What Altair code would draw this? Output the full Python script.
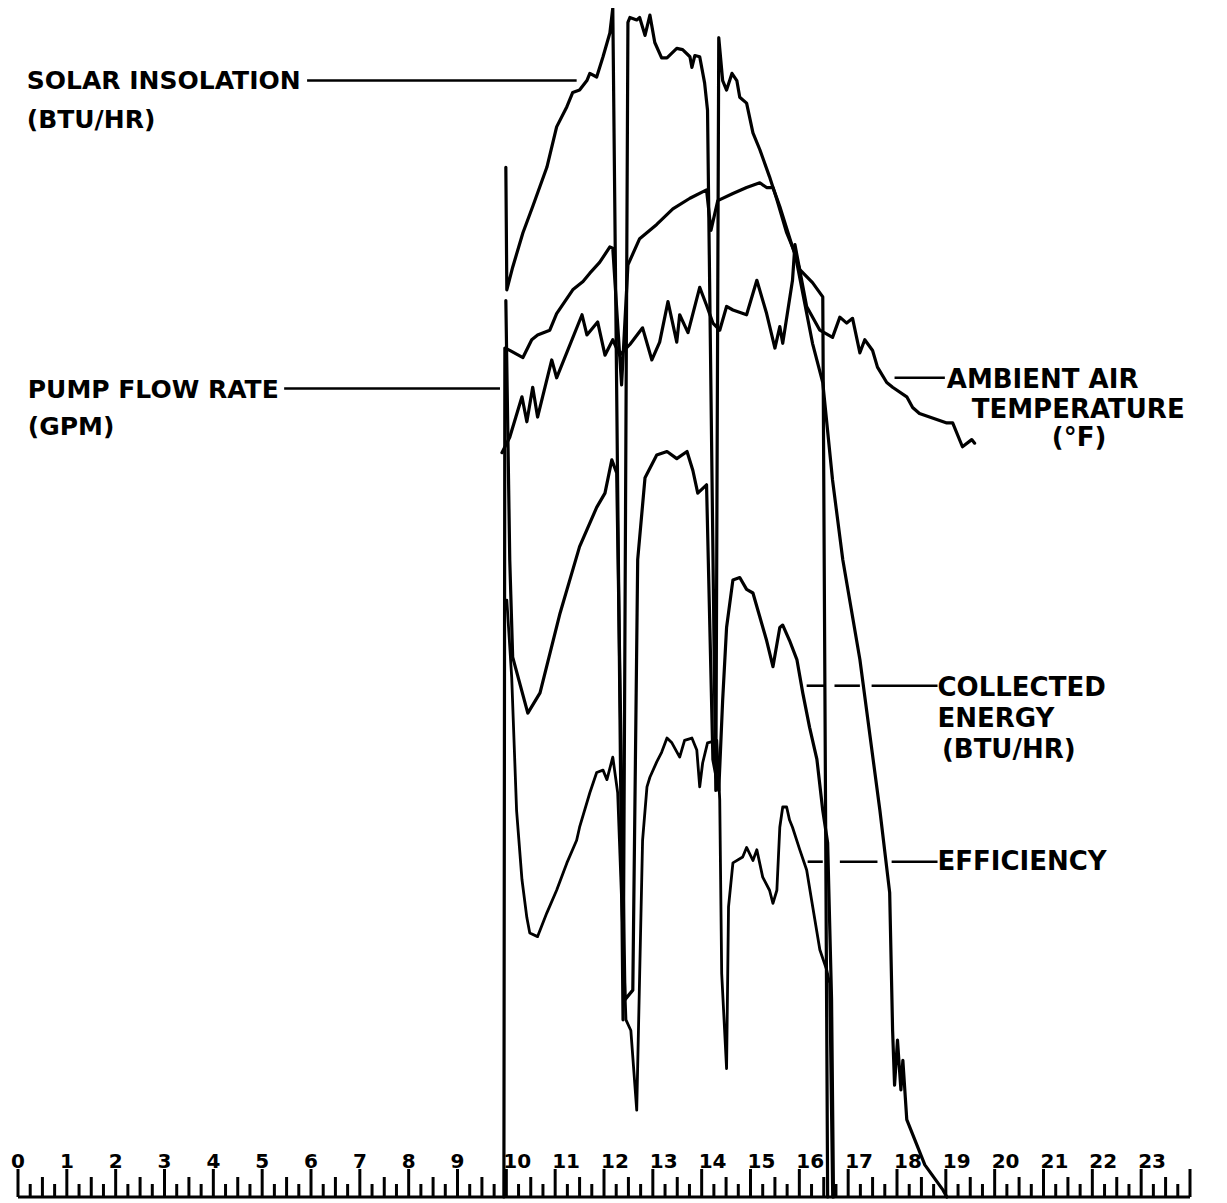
import altair as alt
import pandas as pd

# ---------------- data (hour of day, % of full scale) -------------
solar_hour = [9.99, 10.01, 10.13, 10.34, 10.54, 10.83, 11.03, 11.24, 11.36, 11.50, 11.65, 11.71,
              11.85, 11.98, 12.12, 12.18, 12.39, 12.49, 12.53, 12.67, 12.73, 12.84, 12.94, 13.04,
              13.18, 13.29, 13.49, 13.61, 13.76, 13.80, 13.86, 13.96, 14.06, 14.12, 14.29, 14.35,
              14.43, 14.51, 14.62, 14.72, 14.78, 14.92, 15.05, 15.19, 15.39, 15.54, 15.74, 15.91,
              16.27, 16.48, 16.68, 16.89, 17.24, 17.65, 17.85, 17.91, 17.95, 18.01, 18.08, 18.12,
              18.20, 18.57, 18.94, 19.02]
solar_val = [86.6, 76.3, 78.2, 81.1, 83.3, 86.6, 90.0, 91.7, 92.9, 93.1, 93.9, 94.5,
             94.2, 95.9, 97.9, 100.0, 14.9, 98.8, 99.2, 99.0, 99.2, 97.7, 99.4, 97.1,
             95.8, 95.8, 96.6, 96.5, 95.9, 95.0, 96.0, 95.9, 93.7, 91.4, 34.2, 97.5,
             93.9, 93.1, 94.5, 93.9, 92.5, 92.0, 89.5, 88.1, 85.8, 83.9, 81.1, 79.4,
             71.8, 68.5, 60.3, 53.6, 45.2, 32.5, 25.6, 14.0, 9.4, 13.2, 9.0, 11.5,
             6.5, 2.7, 0.6, 0.0]

pump_hour = [9.95, 9.97, 10.07, 10.34, 10.52, 10.64, 10.89, 11.03, 11.36, 11.57, 11.71, 11.91,
             12.12, 12.18, 12.36, 12.49, 12.73, 13.08, 13.41, 13.76, 14.10, 14.19, 14.33, 14.64,
             14.92, 15.19, 15.33, 15.46, 15.60, 15.86, 16.01, 16.27, 16.48, 16.58]
pump_val = [0.0, 71.4, 71.2, 70.6, 72.1, 72.5, 72.9, 74.3, 76.3, 77.0, 77.7, 78.6,
            79.9, 79.8, 68.3, 78.4, 80.6, 81.8, 83.1, 84.0, 84.7, 81.3, 83.8, 84.4,
            84.9, 85.3, 84.9, 84.9, 83.3, 79.9, 78.0, 76.9, 75.7, 0.0]

ambient_hour = [9.91, 10.07, 10.32, 10.42, 10.54, 10.64, 10.93, 11.03, 11.55, 11.65, 11.87, 12.02,
                12.18, 12.32, 12.53, 12.79, 12.98, 13.14, 13.31, 13.49, 13.55, 13.72, 13.96, 14.10,
                14.23, 14.37, 14.51, 14.64, 14.92, 15.13, 15.33, 15.50, 15.60, 15.66, 15.86, 15.91,
                16.15, 16.42, 16.68, 16.83, 16.97, 17.09, 17.24, 17.34, 17.50, 17.60, 17.79, 17.91,
                18.20, 18.32, 18.46, 19.02, 19.14, 19.34, 19.53, 19.59]
ambient_val = [62.6, 63.9, 67.3, 65.2, 68.1, 65.6, 70.4, 68.9, 74.2, 72.5, 73.6, 70.8,
               72.1, 70.8, 71.7, 73.1, 70.4, 71.9, 75.3, 71.9, 74.2, 72.7, 76.5, 75.0,
               73.5, 72.9, 74.9, 74.6, 74.2, 77.1, 74.3, 71.4, 73.2, 71.8, 77.1, 80.1,
               74.9, 72.9, 72.3, 74.0, 73.5, 73.9, 71.0, 72.1, 71.2, 69.8, 68.5, 68.1,
               67.3, 66.4, 65.9, 65.1, 65.1, 63.1, 63.7, 63.4]

collected_hour = [9.99, 10.07, 10.13, 10.44, 10.69, 11.10, 11.30, 11.50, 11.85, 12.02, 12.16, 12.26,
                  12.43, 12.59, 12.69, 12.84, 13.08, 13.29, 13.49, 13.70, 13.82, 13.92, 14.10, 14.23,
                  14.35, 14.43, 14.51, 14.64, 14.78, 14.92, 15.05, 15.19, 15.33, 15.46, 15.60, 15.66,
                  15.80, 15.95, 16.07, 16.21, 16.36, 16.48, 16.58, 16.66, 16.70]
collected_val = [75.4, 53.6, 45.4, 40.7, 42.4, 49.1, 51.9, 54.7, 58.0, 59.2, 62.0, 60.9,
                 16.6, 17.4, 53.6, 60.5, 62.4, 62.7, 62.1, 62.7, 61.1, 59.2, 59.9, 36.8,
                 34.2, 41.8, 47.9, 51.9, 52.1, 51.1, 50.8, 48.8, 46.8, 44.6, 47.9, 48.1,
                 46.8, 45.2, 42.4, 39.5, 36.8, 32.5, 29.8, 16.6, 0.0]

efficiency_hour = [10.01, 10.11, 10.21, 10.32, 10.42, 10.48, 10.64, 10.83, 11.03, 11.24, 11.44, 11.50,
                   11.71, 11.85, 11.98, 12.06, 12.18, 12.28, 12.45, 12.55, 12.67, 12.79, 12.88, 12.94,
                   13.08, 13.18, 13.29, 13.39, 13.55, 13.65, 13.80, 13.90, 13.96, 14.02, 14.12, 14.31,
                   14.37, 14.41, 14.51, 14.55, 14.64, 14.84, 14.92, 15.05, 15.13, 15.25, 15.39, 15.46,
                   15.54, 15.60, 15.66, 15.74, 15.80, 15.86, 16.01, 16.15, 16.25, 16.42, 16.56, 16.62,
                   16.68]
efficiency_val = [50.2, 43.7, 32.5, 26.7, 23.5, 22.2, 21.9, 23.9, 25.8, 28.1, 30.0, 31.1,
                  34.0, 35.7, 35.9, 35.1, 37.0, 34.0, 14.9, 14.0, 7.3, 30.0, 34.5, 35.3,
                  36.6, 37.4, 38.6, 38.2, 37.0, 38.4, 38.6, 37.6, 34.5, 36.5, 38.2, 38.4,
                  33.4, 18.8, 10.8, 24.4, 28.1, 28.6, 29.4, 28.3, 29.2, 26.9, 25.8, 24.7,
                  25.8, 31.1, 32.8, 32.8, 31.7, 31.1, 29.2, 27.5, 25.0, 20.8, 19.1, 18.0,
                  0.0]

tick_label_hours = list(range(24))
tick_label_text = [str(h) for h in tick_label_hours]

# series labels (text, left-edge hour, baseline value, group)
label_text = ["SOLAR INSOLATION", "(BTU/HR)", "PUMP FLOW RATE", "(GPM)",
              "AMBIENT AIR", "TEMPERATURE", "(°F)",
              "COLLECTED", "ENERGY", "(BTU/HR)", "EFFICIENCY"]
label_hour = [0.18, 0.18, 0.20, 0.20, 19.02, 19.53, 21.17, 18.83, 18.83, 18.92, 18.83]
label_value = [93.2, 89.9, 67.2, 64.1, 68.0, 65.5, 63.2, 42.1, 39.5, 36.9, 27.5]
label_group = ["left", "left", "left", "left", "right", "right", "right",
               "right", "right", "right", "right"]

# leader lines (start hour, end hour, value)
leader_start = [5.92, 5.45, 17.95, 16.15, 16.72, 17.48, 16.17, 16.83, 17.89]
leader_end = [11.44, 9.87, 18.98, 16.52, 17.24, 18.83, 16.48, 17.60, 18.83]
leader_value = [93.9, 68.0, 68.9, 43.0, 43.0, 43.0, 28.2, 28.2, 28.2]

# ---------------- build tables ----------------
rows = []
for name, hs, vs in [("Solar insolation", solar_hour, solar_val),
                     ("Pump flow rate", pump_hour, pump_val),
                     ("Ambient air temperature", ambient_hour, ambient_val),
                     ("Collected energy", collected_hour, collected_val),
                     ("Efficiency", efficiency_hour, efficiency_val)]:
    for i, (h, v) in enumerate(zip(hs, vs)):
        rows.append({"series": name, "hour": h, "value": v, "order": i})
df = pd.DataFrame(rows)

ticks = []
for q in range(24 * 4 + 1):
    h = q / 4
    kind = "hour" if q % 4 == 0 else ("half" if q % 2 == 0 else "quarter")
    ticks.append({"hour": h, "kind": kind})
df_ticks = pd.DataFrame(ticks)

df_tlab = pd.DataFrame({"hour": tick_label_hours, "text": tick_label_text})
df_tlab["two"] = df_tlab["hour"] >= 10

df_lab = pd.DataFrame({"text": label_text, "hour": label_hour, "value": label_value,
                       "group": label_group})
df_lead = pd.DataFrame({"hour": leader_start, "hour_end": leader_end, "value": leader_value})
df_axis = pd.DataFrame({"hour": [0], "hour_end": [24]})

xs = alt.Scale(domain=[0, 24], nice=False, zero=False)
ys = alt.Scale(domain=[0, 100], nice=False, zero=False)
X = alt.X("hour:Q", scale=xs, axis=None)
Y = alt.Y("value:Q", scale=ys, axis=None)
H = 1189

main_lines = alt.Chart(df).transform_filter(alt.datum.series != "Efficiency").mark_line(
    color="black", strokeWidth=3.2, strokeJoin="round", strokeCap="round"
).encode(x=X, y=Y, detail="series:N", order="order:Q")

eff_line = alt.Chart(df).transform_filter(alt.datum.series == "Efficiency").mark_line(
    color="black", strokeWidth=2.8, strokeJoin="round", strokeCap="round"
).encode(x=X, y=Y, detail="series:N", order="order:Q")

axis_line = alt.Chart(df_axis).mark_rule(color="black", strokeWidth=3).encode(
    x=X, x2="hour_end:Q", y=alt.value(H))

def tick_layer(kind, top):
    return alt.Chart(df_ticks).transform_filter(alt.datum.kind == kind).mark_rule(
        color="black", strokeWidth=3).encode(x=X, y=alt.value(H), y2=alt.value(top))

tick_major = tick_layer("hour", H - 28)
tick_half = tick_layer("half", H - 20)
tick_quarter = tick_layer("quarter", H - 13)

tlab_one = alt.Chart(df_tlab).transform_filter(~alt.datum.two).mark_text(
    align="center", baseline="alphabetic", font="DejaVu Sans", fontWeight="bold",
    fontSize=20, color="black").encode(x=X, y=alt.value(H - 29), text="text:N")
tlab_two = alt.Chart(df_tlab).transform_filter(alt.datum.two).mark_text(
    align="left", baseline="alphabetic", font="DejaVu Sans", fontWeight="bold",
    fontSize=20, dx=-3, color="black").encode(x=X, y=alt.value(H - 29), text="text:N")

lab_left = alt.Chart(df_lab).transform_filter(alt.datum.group == "left").mark_text(
    align="left", baseline="alphabetic", font="DejaVu Sans", fontWeight="bold",
    fontSize=25, color="black").encode(x=X, y=Y, text="text:N")
lab_right = alt.Chart(df_lab).transform_filter(alt.datum.group == "right").mark_text(
    align="left", baseline="alphabetic", font="DejaVu Sans", fontWeight="bold",
    fontSize=26, color="black").encode(x=X, y=Y, text="text:N")

leaders = alt.Chart(df_lead).mark_rule(color="black", strokeWidth=2.6).encode(
    x=X, x2="hour_end:Q", y=Y)

chart = alt.layer(
    axis_line, tick_major, tick_half, tick_quarter, tlab_one, tlab_two,
    main_lines, eff_line, leaders, lab_left, lab_right
).properties(
    width=1172, height=H,
    autosize=alt.AutoSizeParams(type="none"),
    padding={"left": 10, "top": 0, "right": 29, "bottom": 6},
    background="white",
).configure_view(stroke=None)

chart.save("out.html", embed_options={"renderer": "svg", "actions": False})
